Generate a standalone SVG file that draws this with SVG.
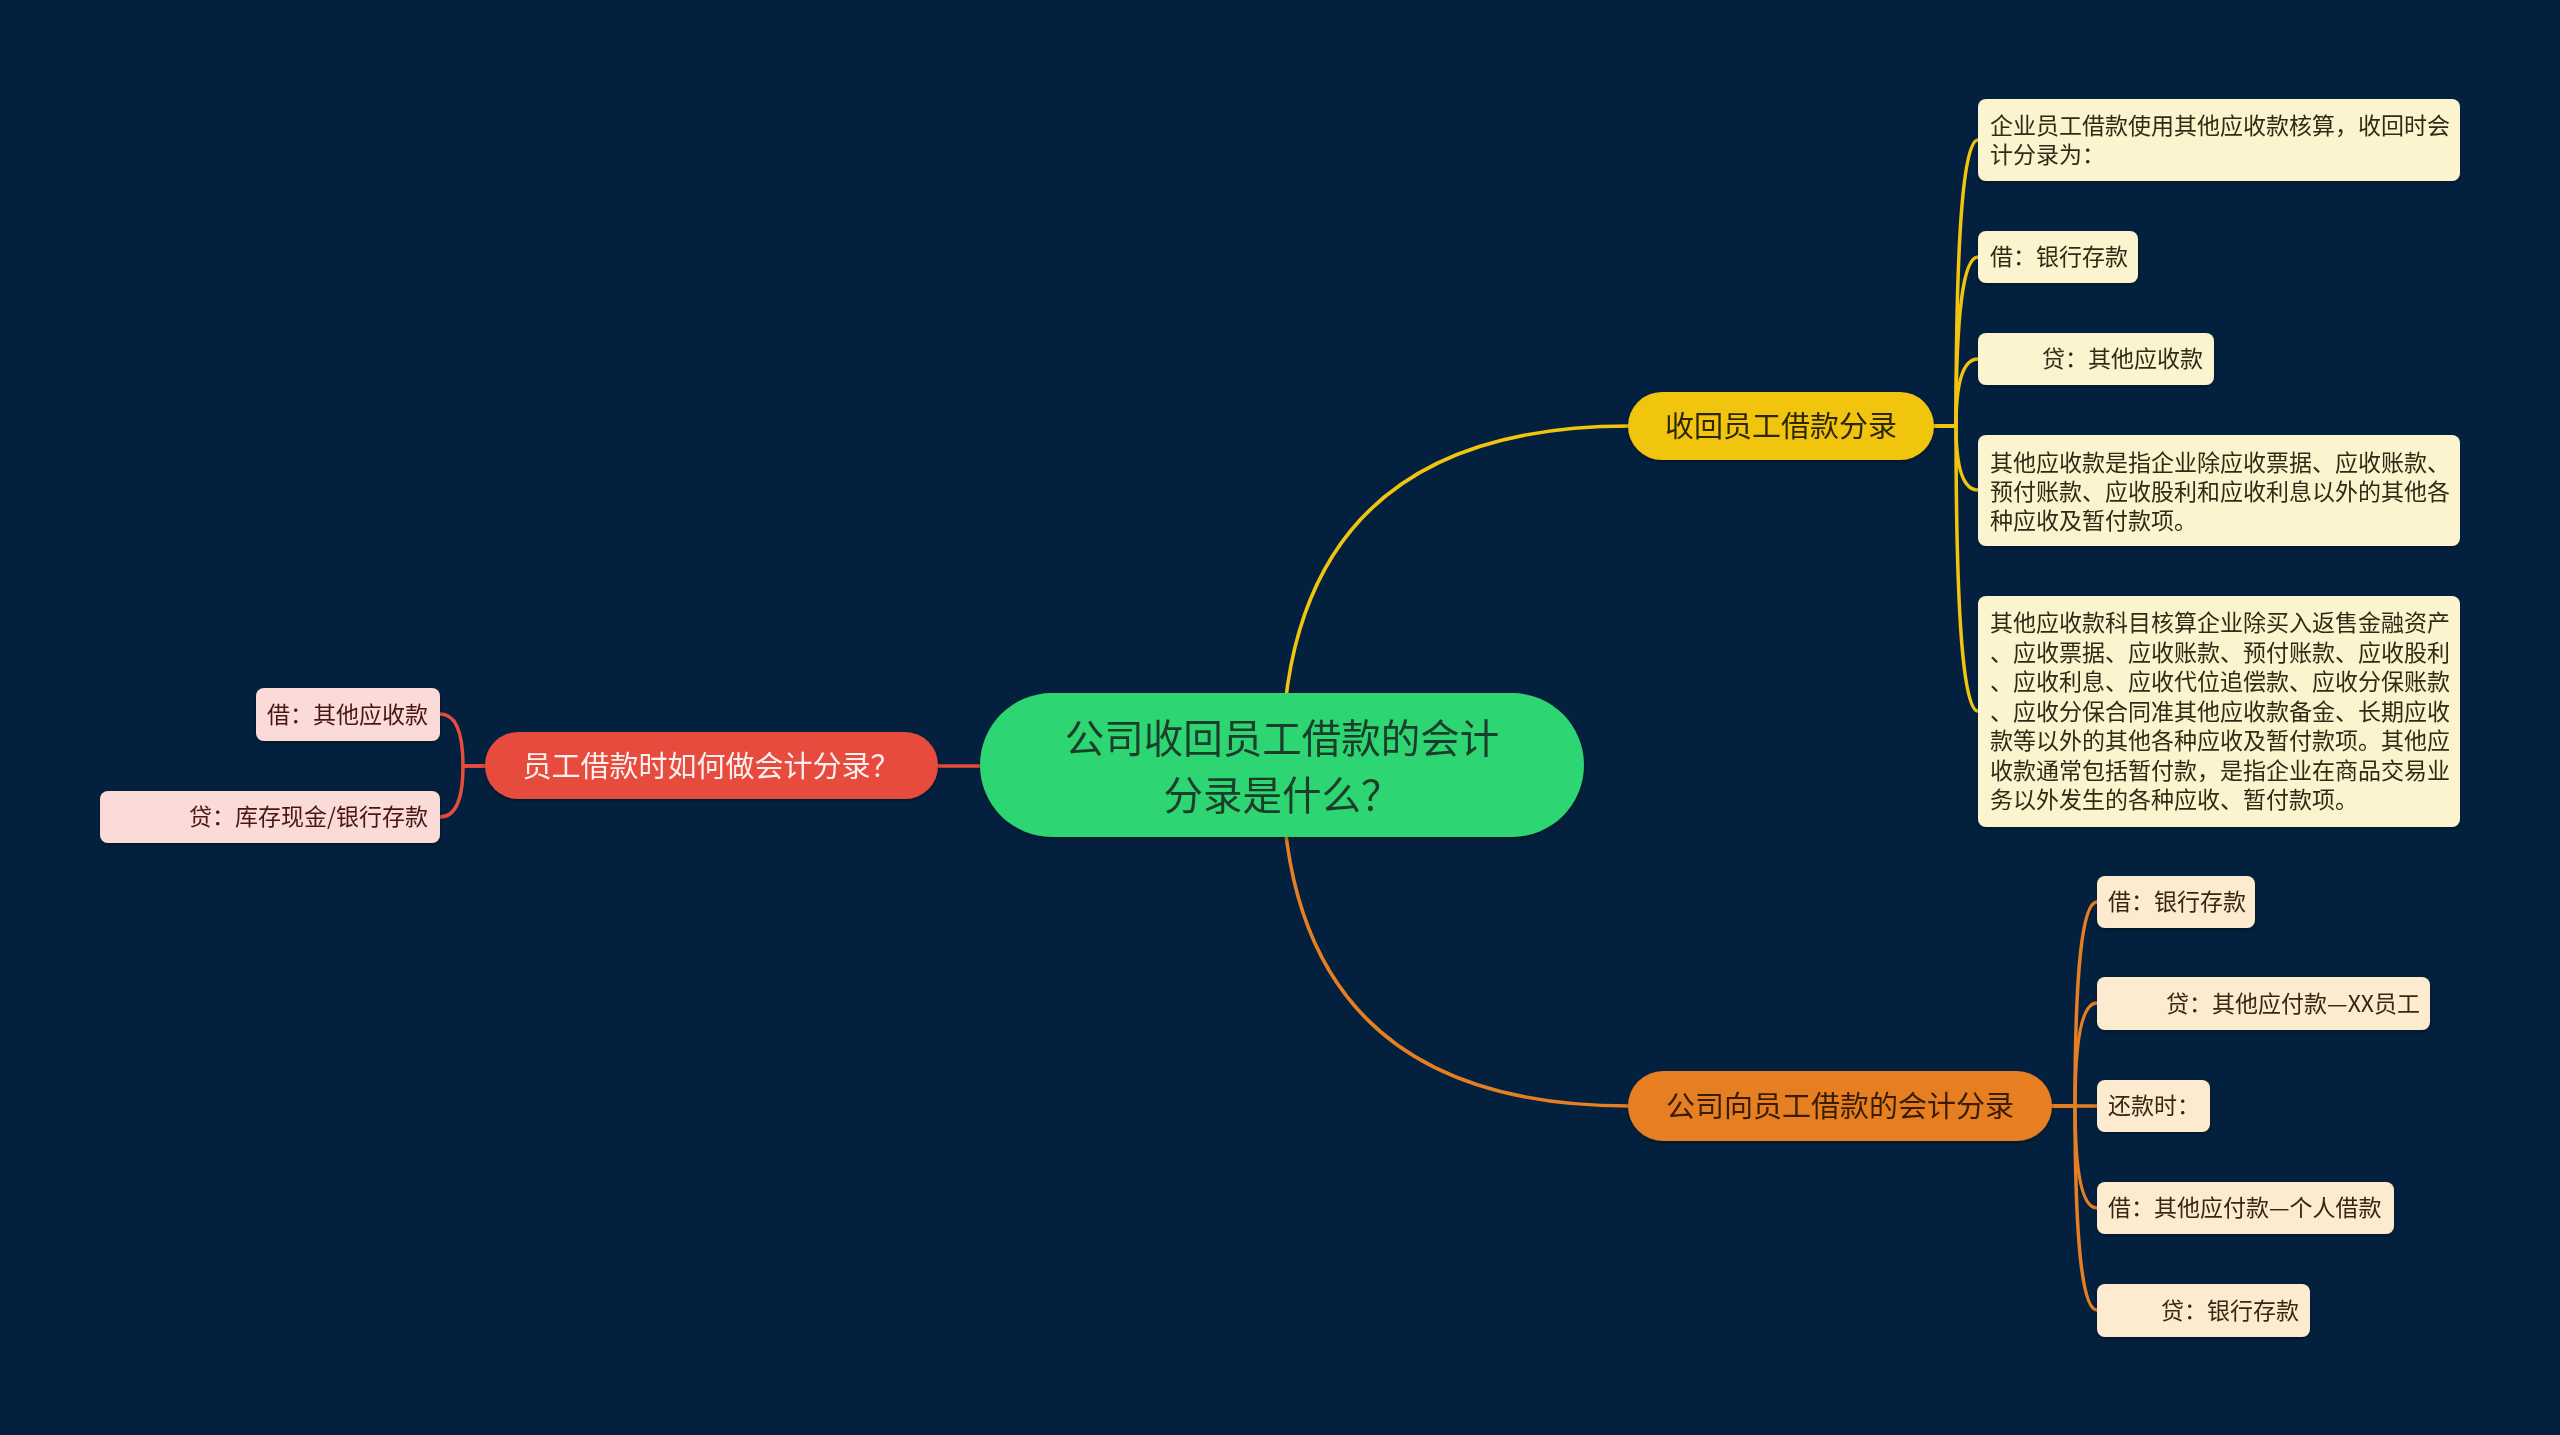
<svg xmlns="http://www.w3.org/2000/svg" width="2560" height="1435" viewBox="0 0 2560 1435">
<defs>
<filter id="sh" x="-10%" y="-20%" width="120%" height="150%">
<feDropShadow dx="0" dy="2" stdDeviation="2" flood-color="#000" flood-opacity="0.35"/>
</filter>
<style>
text{font-family:"Noto Sans CJK SC","Noto Sans",sans-serif;dominant-baseline:central;transform:translate(0px,-2px)}
.c{fill:none;stroke-width:3.5;stroke-linecap:round}
.y{stroke:#f1c40f}.o{stroke:#e67e22}.r{stroke:#e74c3c}
.leaf{font-size:23px}
.ly rect{fill:#fcf3cf}.ly text{fill:#332b14}
.lo rect{fill:#fdebd0}.lo text{fill:#3a2612}
.lr rect{fill:#fadbd8}.lr text{fill:#4a1512}
</style>
</defs>
<rect width="2560" height="1435" fill="#03213f"/>
<g id="connectors">
<path class="c y" d="M1282 766 Q1282 426 1629 426"/>
<path class="c o" d="M1282 766 Q1282 1106 1629 1106"/>
<path class="c r" d="M980 766 H938"/>
<path class="c y" d="M1934 426 H1956 Q1956 140 1978 140"/>
<path class="c y" d="M1934 426 H1956 Q1956 257 1978 257"/>
<path class="c y" d="M1934 426 H1956 Q1956 359 1978 359"/>
<path class="c y" d="M1934 426 H1956 Q1956 490 1978 490"/>
<path class="c y" d="M1934 426 H1956 Q1956 711 1978 711"/>
<path class="c o" d="M2052 1106 H2075 Q2075 902 2097 902"/>
<path class="c o" d="M2052 1106 H2075 Q2075 1003 2097 1003"/>
<path class="c o" d="M2052 1106 H2097"/>
<path class="c o" d="M2052 1106 H2075 Q2075 1208 2097 1208"/>
<path class="c o" d="M2052 1106 H2075 Q2075 1310 2097 1310"/>
<path class="c r" d="M485 766 H463 Q463 714 440 714"/>
<path class="c r" d="M485 766 H463 Q463 817 440 817"/>
</g>
<g id="center" filter="url(#sh)">
<rect x="980" y="693" width="604" height="144" rx="72" fill="#2ed573"/>
<text x="1282" y="737" font-size="39.5" text-anchor="middle" fill="#1b3d29">公司收回员工借款的会计</text>
<text x="1282" y="794" font-size="39.5" text-anchor="middle" fill="#1b3d29">分录是什么？</text>
</g>
<g id="n-yellow" filter="url(#sh)">
<rect x="1628" y="392" width="306" height="68" rx="34" fill="#f1c40f"/>
<text x="1781" y="426" font-size="29" text-anchor="middle" fill="#2e2706">收回员工借款分录</text>
</g>
<g id="n-orange" filter="url(#sh)">
<rect x="1628" y="1071" width="424" height="70" rx="35" fill="#e67e22"/>
<text x="1840" y="1106" font-size="29" text-anchor="middle" fill="#3a1d05">公司向员工借款的会计分录</text>
</g>
<g id="n-red" filter="url(#sh)">
<rect x="485" y="732" width="453" height="67" rx="33" fill="#e74c3c"/>
<text x="711" y="766" font-size="29" text-anchor="middle" fill="#fdf0ef">员工借款时如何做会计分录？</text>
</g>
<g id="y1" class="ly leaf" filter="url(#sh)">
<rect x="1978" y="99" width="482" height="82" rx="8"/>
<text x="1990" y="126">企业员工借款使用其他应收款核算，收回时会</text>
<text x="1990" y="155">计分录为：</text>
</g>
<g id="y2" class="ly leaf" filter="url(#sh)">
<rect x="1978" y="231" width="160" height="52" rx="8"/>
<text x="1990" y="257">借：银行存款</text>
</g>
<g id="y3" class="ly leaf" filter="url(#sh)">
<rect x="1978" y="333" width="236" height="52" rx="8"/>
<text x="2203" y="359" text-anchor="end">贷：其他应收款</text>
</g>
<g id="y4" class="ly leaf" filter="url(#sh)">
<rect x="1978" y="435" width="482" height="111" rx="8"/>
<text x="1990" y="463">其他应收款是指企业除应收票据、应收账款、</text>
<text x="1990" y="492">预付账款、应收股利和应收利息以外的其他各</text>
<text x="1990" y="521">种应收及暂付款项。</text>
</g>
<g id="y5" class="ly leaf" filter="url(#sh)">
<rect x="1978" y="596" width="482" height="231" rx="8"/>
<text x="1990" y="623">其他应收款科目核算企业除买入返售金融资产</text>
<text x="1990" y="653">、应收票据、应收账款、预付账款、应收股利</text>
<text x="1990" y="682">、应收利息、应收代位追偿款、应收分保账款</text>
<text x="1990" y="712">、应收分保合同准其他应收款备金、长期应收</text>
<text x="1990" y="741">款等以外的其他各种应收及暂付款项。其他应</text>
<text x="1990" y="771">收款通常包括暂付款，是指企业在商品交易业</text>
<text x="1990" y="800">务以外发生的各种应收、暂付款项。</text>
</g>
<g id="o1" class="lo leaf" filter="url(#sh)">
<rect x="2097" y="876" width="158" height="52" rx="8"/>
<text x="2108" y="902">借：银行存款</text>
</g>
<g id="o2" class="lo leaf" filter="url(#sh)">
<rect x="2097" y="977" width="333" height="53" rx="8"/>
<text x="2420" y="1004" text-anchor="end">贷：其他应付款—XX员工</text>
</g>
<g id="o3" class="lo leaf" filter="url(#sh)">
<rect x="2097" y="1080" width="113" height="52" rx="8"/>
<text x="2108" y="1106">还款时：</text>
</g>
<g id="o4" class="lo leaf" filter="url(#sh)">
<rect x="2097" y="1182" width="297" height="52" rx="8"/>
<text x="2108" y="1208">借：其他应付款—个人借款</text>
</g>
<g id="o5" class="lo leaf" filter="url(#sh)">
<rect x="2097" y="1284" width="213" height="53" rx="8"/>
<text x="2299" y="1311" text-anchor="end">贷：银行存款</text>
</g>
<g id="r1" class="lr leaf" filter="url(#sh)">
<rect x="256" y="688" width="184" height="53" rx="8"/>
<text x="428" y="715" text-anchor="end">借：其他应收款</text>
</g>
<g id="r2" class="lr leaf" filter="url(#sh)">
<rect x="100" y="791" width="340" height="52" rx="8"/>
<text x="428" y="817" text-anchor="end">贷：库存现金/银行存款</text>
</g>
</svg>
